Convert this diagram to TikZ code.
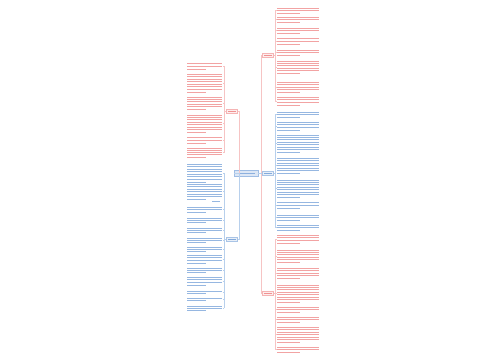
\documentclass[tikz,border=0pt]{standalone}
\definecolor{redtxt}{RGB}{232,88,88}
\definecolor{bluetxt}{RGB}{64,124,200}
\definecolor{redln}{RGB}{246,196,196}
\definecolor{blueln}{RGB}{184,208,236}
\tikzset{x=1pt,y=-1pt,
  textln/.style={line width=0.9pt},
  conn/.style={line width=0.6pt},
  bnode/.style={draw, line width=0.4pt, minimum width=11pt, minimum height=4.5pt, inner sep=0pt},
  cnode/.style={draw=bluetxt!50, fill=bluetxt!18, line width=0.4pt, minimum width=24pt, minimum height=5.5pt, inner sep=0pt}}
% text block: #1 xleft, #2 xright, #3 ytop, #4 ybottom, #5 colour
\newcommand\txtblk[5]{%
  \pgfmathtruncatemacro\nl{max(1,round((#4-#3)/2.5)+1)}%
  \ifnum\nl=1
    \draw[textln,#5] (#1,#3) -- ({#1+0.7*(#2-#1)},#3);
  \else
    \foreach \k in {1,...,\nl}{%
      \pgfmathsetmacro\yy{#3+(\k-1)*(#4-#3)/(\nl-1)}%
      \pgfmathsetmacro\xe{(\k==\nl) ? (#1+0.55*(#2-#1)) : #2}%
      \draw[textln,#5] (#1,\yy) -- (\xe,\yy);}%
  \fi}
% right leaf: #1 name, #2 ytop, #3 ybottom, #4 text colour, #5 line colour
\newcommand\rleaf[5]{%
  \txtblk{277}{319}{#2}{#3}{#4!55}%
  \coordinate (#1) at (276.5,{(#2+#3)/2});
  \coordinate (#1v) at (275,{(#2+#3)/2});
  \draw[conn,#5] (#1v) -- (#1);}
\newcommand\lleaf[5]{%
  \txtblk{187}{222}{#2}{#3}{#4!55}%
  \coordinate (#1) at (222.5,{(#2+#3)/2});
  \coordinate (#1v) at (224,{(#2+#3)/2});
  \draw[conn,#5] (#1v) -- (#1);}
\begin{document}
\begin{tikzpicture}
\useasboundingbox (0,0) rectangle (500,360);
\fill[white] (0,0) rectangle (500,360);
% central node
\node[cnode] (C) at (246,173) {};
\draw[textln,bluetxt!60,line width=0.9pt] ([xshift=3pt]C.west) -- ([xshift=-3pt]C.east);
% branch nodes
\node[bnode,draw=redtxt!45,fill=redtxt!10] (L1) at (232,111) {};
\node[bnode,draw=bluetxt!45,fill=bluetxt!12] (L2) at (232,239) {};
\node[bnode,draw=redtxt!45,fill=redtxt!10] (R1) at (268,55) {};
\node[bnode,draw=bluetxt!45,fill=bluetxt!12] (R2) at (268,173) {};
\node[bnode,draw=redtxt!45,fill=redtxt!10] (R3) at (268,293) {};
\foreach \n/\c in {L1/redtxt,L2/bluetxt,R1/redtxt,R2/bluetxt,R3/redtxt}
  \draw[line width=0.8pt,\c!65] ([xshift=2pt]\n.west) -- ([xshift=-2pt]\n.east);
% main connectors
\coordinate (RV) at (261,173);
\coordinate (LV) at (239.5,173);
\draw[conn,blueln] (C.east) -- (RV);
\draw[conn,blueln] (C.west) -- (LV);
\draw[conn,redln] (RV) |- (R1.west);
\draw[conn,redln] (RV) |- (R3.west);
\draw[conn,blueln] (RV) -- (R2.west);
\draw[conn,redln] (LV) |- (L1.east);
\draw[conn,blueln] (LV) |- (L2.east);
% ---- right top (red)
\draw[conn,redln] (R1.east) -- (275,55);
\draw[conn,redln] (275,10.5) -- (275,101);
\rleaf{a1}{8}{13}{redtxt}{redln}
\rleaf{a2}{17}{22}{redtxt}{redln}
\rleaf{a3}{28}{33}{redtxt}{redln}
\rleaf{a4}{38}{44}{redtxt}{redln}
\rleaf{a5}{50}{55}{redtxt}{redln}
\rleaf{a6}{61}{73}{redtxt}{redln}
\rleaf{a7}{82}{92}{redtxt}{redln}
\rleaf{a8}{97}{105}{redtxt}{redln}
% ---- right middle (blue)
\draw[conn,blueln] (R2.east) -- (275,173);
\draw[conn,blueln] (275,114.5) -- (275,227.5);
\rleaf{b1}{112}{117}{bluetxt}{blueln}
\rleaf{b2}{122}{130}{bluetxt}{blueln}
\rleaf{b3}{135}{152}{bluetxt}{blueln}
\rleaf{b4}{158}{173}{bluetxt}{blueln}
\rleaf{b5}{180}{197}{bluetxt}{blueln}
\rleaf{b6}{202}{208}{bluetxt}{blueln}
\rleaf{b7}{215}{220}{bluetxt}{blueln}
\rleaf{b8}{225}{230}{bluetxt}{blueln}
% ---- right bottom (red)
\draw[conn,redln] (R3.east) -- (275,293);
\draw[conn,redln] (275,239) -- (275,349.5);
\rleaf{c1}{235}{243}{redtxt}{redln}
\rleaf{c2}{250}{262}{redtxt}{redln}
\rleaf{c3}{268}{278}{redtxt}{redln}
\rleaf{c4}{285}{302}{redtxt}{redln}
\rleaf{c5}{307}{312}{redtxt}{redln}
\rleaf{c6}{317}{322}{redtxt}{redln}
\rleaf{c7}{327}{342}{redtxt}{redln}
\rleaf{c8}{347}{352}{redtxt}{redln}
% ---- left top (red)
\draw[conn,redln] (L1.west) -- (224,111);
\draw[conn,redln] (224,66) -- (224,152.5);
\lleaf{d1}{63}{69}{redtxt}{redln}
\lleaf{d2}{74}{92}{redtxt}{redln}
\lleaf{d3}{97}{109}{redtxt}{redln}
\lleaf{d4}{115}{132}{redtxt}{redln}
\lleaf{d5}{137}{143}{redtxt}{redln}
\lleaf{d6}{148}{157}{redtxt}{redln}
% ---- left bottom (blue)
\draw[conn,blueln] (L2.west) -- (224,239);
\draw[conn,blueln] (224,173) -- (224,308);
\lleaf{e1}{164}{182}{bluetxt}{blueln}
\lleaf{e2}{184}{199}{bluetxt}{blueln}
\lleaf{e3}{207}{212}{bluetxt}{blueln}
\lleaf{e4}{218}{222}{bluetxt}{blueln}
\lleaf{e5}{228}{232}{bluetxt}{blueln}
\lleaf{e6}{238}{242}{bluetxt}{blueln}
\lleaf{e7}{247}{251}{bluetxt}{blueln}
\lleaf{e8}{255}{263}{bluetxt}{blueln}
\lleaf{e9}{268}{272}{bluetxt}{blueln}
\lleaf{e10}{277}{285}{bluetxt}{blueln}
\lleaf{e11}{291}{293}{bluetxt}{blueln}
\lleaf{e12}{298}{300}{bluetxt}{blueln}
\lleaf{e13}{306}{310}{bluetxt}{blueln}
\draw[textln,bluetxt!55] (212,201.5) -- (220,201.5);
\end{tikzpicture}
\end{document}
